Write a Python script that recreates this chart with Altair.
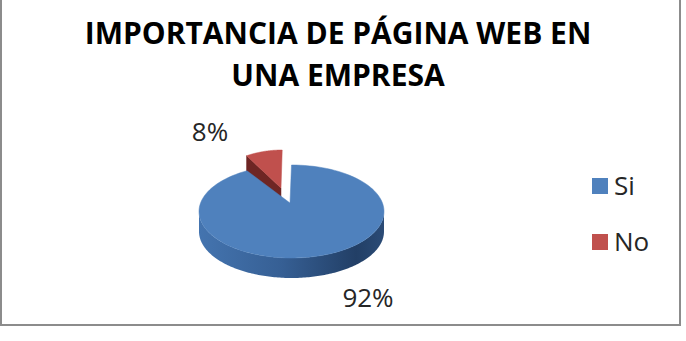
import altair as alt
import numpy as np
import pandas as pd

# ---- data ----
labels = ["Si", "No"]
values = [92, 8]
top_colors = ["#4F81BD", "#C0504D"]
side_colors = ["#2F5688", "#6E2624"]
title_lines = ["IMPORTANCIA DE PÁGINA WEB EN", "UNA EMPRESA"]

# ---- layout (pixels) ----
W, H = 686, 341
CX, CY, RX, RY = 291.5, 211.5, 92.5, 46.5
APEX = (290.0, 203.0)
DEPTH = 20.0
EXPLODE = {"No": (-9.0, -15.0, 0.8)}        # dx, dy, horizontal perspective scale
LABEL_POS = {"Si": (368, 307), "No": (210, 141)}   # text anchor (center, baseline)
LEGEND_POS = {"Si": (600, 186), "No": (600, 242)}
FONT = "Open Sans"

total = float(sum(values))
bounds = np.concatenate([[0.0], np.cumsum(values)]) / total * 360.0


def rim(theta):
    t = np.radians(theta)
    return CX + RX * np.sin(t), CY - RY * np.cos(t)


xs_scale = alt.Scale(domain=[0, W], range=[0, W], nice=False, zero=False)
ys_scale = alt.Scale(domain=[0, H], range=[0, H], nice=False, zero=False)


def X(field):
    return alt.X(field, type="quantitative", scale=xs_scale, axis=None)


def Y(field):
    return alt.Y(field, type="quantitative", scale=ys_scale, axis=None)


slices = []
for i, (lab, v) in enumerate(zip(labels, values)):
    a0, a1 = bounds[i], bounds[i + 1]
    dx, dy, sx = EXPLODE.get(lab, (0.0, 0.0, 1.0))
    ax, ay = APEX
    apx, apy = ax + dx, ay + dy

    def place(px, py):
        return ax + (px - ax) * sx + dx, py + dy

    th = np.linspace(a0, a1, 120)
    rx_, ry_ = rim(th)
    px, py = place(rx_, ry_)
    top = pd.DataFrame({"k": np.arange(len(th) + 1),
                        "x": np.concatenate([[apx], px]),
                        "y": np.concatenate([[apy], py])})

    faces = []
    for edge, visible in ((a0, np.sin(np.radians(a0)) < -1e-6),
                          (a1, np.sin(np.radians(a1)) > 1e-6)):
        if visible:
            ex, ey = place(*rim(edge))
            faces.append(pd.DataFrame({"k": [0, 1, 2, 3],
                                       "x": [apx, ex, ex, apx],
                                       "y": [apy, ey, ey + DEPTH, apy + DEPTH]}))
    lo, hi = max(a0, 90.0), min(a1, 270.0)
    side = None
    if hi > lo:
        th2 = np.linspace(lo, hi, 160)
        sx_, sy_ = rim(th2)
        qx, qy = place(sx_, sy_)
        side = pd.DataFrame({"x": qx, "y": qy, "y2": qy + DEPTH})
    depth_key = -np.cos(np.radians((a0 + a1) / 2))
    slices.append((depth_key, i, top, faces, side))

slices.sort(key=lambda s: s[0])

layers = []
for _, i, top, faces, side in slices:
    for f in faces:
        layers.append(alt.Chart(f).mark_line(interpolate="linear-closed", fill=side_colors[i],
                                             stroke=side_colors[i], strokeWidth=0.5)
                      .encode(x=X("x"), y=Y("y"), order=alt.Order("k:Q")))
    if side is not None:
        grad = alt.LinearGradient(gradient="linear", x1=0, x2=1, y1=0, y2=0,
                                  stops=[alt.GradientStop(offset=0, color="#4474AF"),
                                         alt.GradientStop(offset=0.45, color="#365F94"),
                                         alt.GradientStop(offset=0.85, color="#223F66"),
                                         alt.GradientStop(offset=1, color="#2B4B76")])
        layers.append(alt.Chart(side).mark_area(color=grad, orient="vertical")
                      .encode(x=X("x"), y=Y("y"), y2="y2"))
    layers.append(alt.Chart(top).mark_line(interpolate="linear-closed", fill=top_colors[i],
                                           stroke=top_colors[i], strokeWidth=0.5)
                  .encode(x=X("x"), y=Y("y"), order=alt.Order("k:Q")))

# percentage labels
lab_df = pd.DataFrame({
    "label": labels,
    "pct": [f"{round(v / total * 100)}%" for v in values],
    "lx": [LABEL_POS[l][0] for l in labels],
    "ly": [LABEL_POS[l][1] for l in labels],
})
layers.append(alt.Chart(lab_df).mark_text(font=FONT, fontSize=26, color="#262626",
                                          align="center", baseline="alphabetic")
              .encode(x=X("lx"), y=Y("ly"), text="pct:N"))

# legend
leg_df = pd.DataFrame({
    "label": labels,
    "color": top_colors,
    "lx": [LEGEND_POS[l][0] for l in labels],
    "ly": [LEGEND_POS[l][1] for l in labels],
})
layers.append(alt.Chart(leg_df).mark_square(size=256, opacity=1, filled=True)
              .encode(x=X("lx"), y=Y("ly"),
                      color=alt.Color("color:N", scale=None)))
layers.append(alt.Chart(leg_df).mark_text(font=FONT, fontSize=26, color="#262626",
                                          align="left", baseline="middle", dx=14, dy=1)
              .encode(x=X("lx"), y=Y("ly"), text="label:N"))

# title
layers.append(alt.Chart(pd.DataFrame({"t": [0]})).mark_text(
    text=title_lines, font=FONT, fontSize=30, fontWeight="bold", color="#000000",
    align="center", baseline="alphabetic", lineHeight=42)
    .encode(x=alt.value(338), y=alt.value(44)))

# frame
frame_color = "#8C8C8C"
layers.append(alt.Chart(pd.DataFrame({"t": [0]})).mark_rule(color=frame_color, strokeWidth=2)
              .encode(x=alt.value(680), y=alt.value(0), y2=alt.value(326)))
layers.append(alt.Chart(pd.DataFrame({"t": [0]})).mark_rule(color=frame_color, strokeWidth=2)
              .encode(x=alt.value(0), x2=alt.value(681), y=alt.value(325)))
layers.append(alt.Chart(pd.DataFrame({"t": [0]})).mark_rule(color=frame_color, strokeWidth=2)
              .encode(x=alt.value(1), y=alt.value(0), y2=alt.value(326)))

chart = alt.layer(*layers).properties(
    width=W, height=H, autosize=alt.AutoSizeParams(type="none"), padding=0,
    background="white"
).configure_view(stroke=None)

chart.save("out.html", embed_options={"renderer": "svg", "actions": False})
